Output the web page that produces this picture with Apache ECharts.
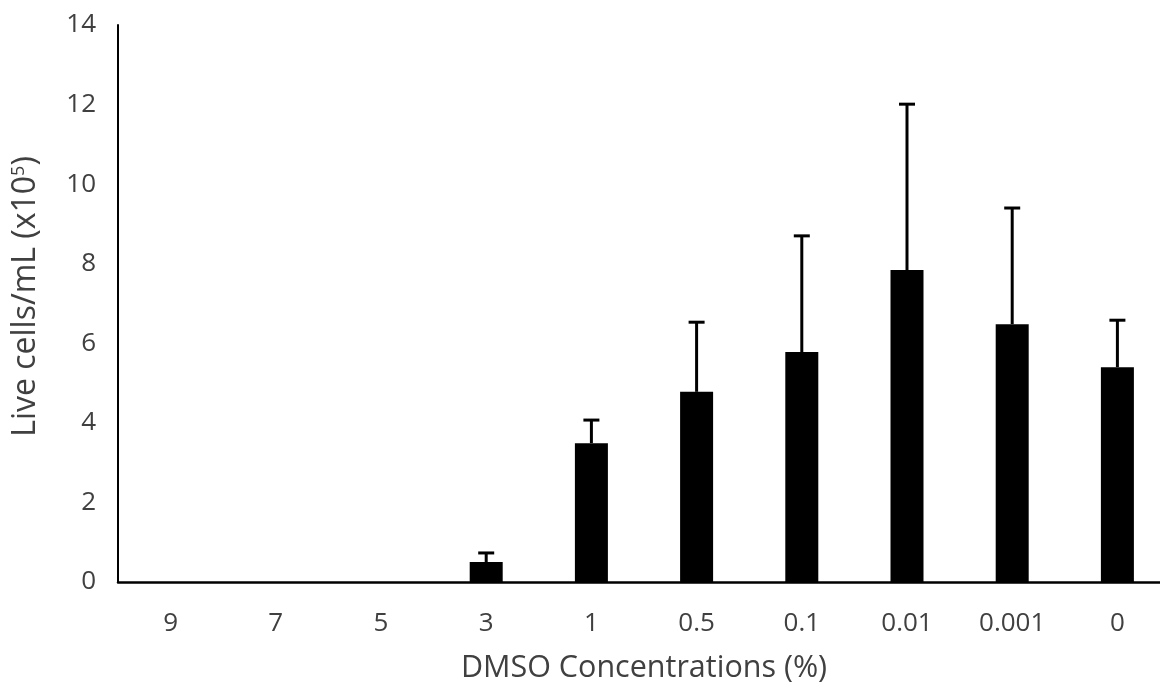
<!DOCTYPE html>
<html>
<head>
<meta charset="utf-8">
<script src="https://cdn.jsdelivr.net/npm/echarts@6/dist/echarts.min.js"></script>
<style>html,body{margin:0;padding:0;background:#fff;}#c{width:1160px;height:689px;}</style>
</head>
<body>
<div id="c"></div>
<script>
const categories = ['9', '7', '5', '3', '1', '0.5', '0.1', '0.01', '0.001', '0'];
const means = [0, 0, 0, 0.50, 3.49, 4.78, 5.78, 7.84, 6.48, 5.40];
const errors = [0, 0, 0, 0.23, 0.58, 1.75, 2.92, 4.17, 2.92, 1.18];
const yTicks = { min: 0, max: 14, interval: 2 };

const errData = categories.map((c, i) => [i, means[i], means[i] + errors[i]]).filter((d, i) => errors[i] > 0);

const chart = echarts.init(document.getElementById('c'));
const font = '"Open Sans", Lato, sans-serif';
chart.setOption({
  animation: false,
  backgroundColor: '#fff',
  grid: { left: 118, width: 1052, top: 25, bottom: 107, outerBoundsMode: 'none', containLabel: false },
  xAxis: {
    type: 'category',
    data: categories,
    axisLine: { lineStyle: { color: '#000', width: 2.5 } },
    axisTick: { show: false },
    axisLabel: { color: '#404040', fontSize: 26, fontFamily: font, margin: 29 },
    name: 'DMSO Concentrations (%)',
    nameLocation: 'middle',
    nameGap: 71,
    nameTextStyle: { color: '#404040', fontSize: 30.5, fontFamily: font }
  },
  yAxis: {
    type: 'value',
    min: yTicks.min, max: yTicks.max, interval: yTicks.interval,
    axisLine: { show: true, lineStyle: { color: '#000', width: 2 } },
    axisTick: { show: false },
    splitLine: { show: false },
    axisLabel: { color: '#404040', fontSize: 26, fontFamily: font, margin: 22 },
    name: '{a|Live cells/mL (x10}{s|5}{a|)}',
    nameLocation: 'middle',
    nameGap: 76,
    nameTextStyle: {
      padding: [0, 0, 0, 14],
      rich: {
        a: { color: '#404040', fontSize: 32, fontFamily: font },
        s: { color: '#404040', fontSize: 18, fontFamily: font, verticalAlign: 'top', padding: [0, 0, 14, 0] }
      }
    }
  },
  series: [
    {
      type: 'bar',
      data: means,
      barWidth: 33,
      itemStyle: { color: '#000' }
    },
    {
      type: 'custom',
      data: errData,
      z: 3,
      renderItem: function (params, api) {
        const x = api.value(0);
        const p0 = api.coord([x, api.value(1)]);
        const p1 = api.coord([x, api.value(2)]);
        const hw = 8;
        return {
          type: 'group',
          children: [
            { type: 'line', shape: { x1: p0[0], y1: p0[1], x2: p1[0], y2: p1[1] }, style: { stroke: '#000', lineWidth: 3 } },
            { type: 'line', shape: { x1: p1[0] - hw, y1: p1[1], x2: p1[0] + hw, y2: p1[1] }, style: { stroke: '#000', lineWidth: 3 } }
          ]
        };
      }
    }
  ]
});
</script>
</body>
</html>
